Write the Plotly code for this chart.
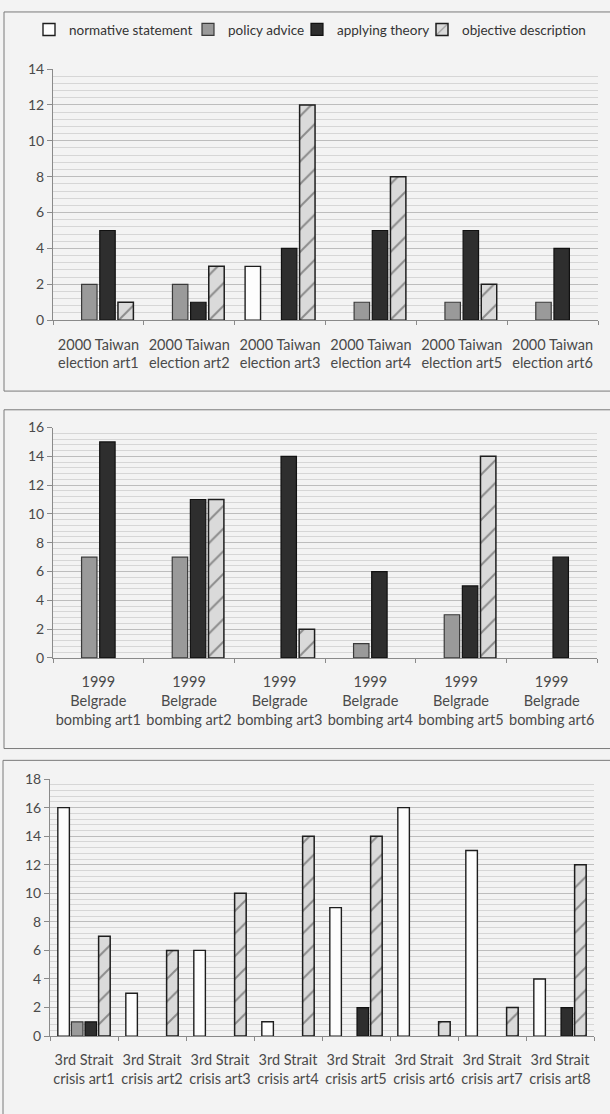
import plotly.graph_objects as go

# Category labels for the three case studies
taiwan_labels = [f"2000 Taiwan<br>election art{i}" for i in range(1, 7)]
belgrade_labels = [f"1999<br>Belgrade<br>bombing art{i}" for i in range(1, 7)]
strait_labels = [f"3rd Strait<br>crisis art{i}" for i in range(1, 9)]

series_names = ["normative statement", "policy advice", "applying theory", "objective description"]

# Counts per article: normative, policy, theory, description
taiwan_normative = [0, 0, 3, 0, 0, 0]
taiwan_policy = [2, 2, 0, 1, 1, 1]
taiwan_theory = [5, 1, 4, 5, 5, 4]
taiwan_description = [1, 3, 12, 8, 2, 0]

belgrade_normative = [0, 0, 0, 0, 0, 0]
belgrade_policy = [7, 7, 0, 1, 3, 0]
belgrade_theory = [15, 11, 14, 6, 5, 7]
belgrade_description = [0, 11, 2, 0, 14, 0]

strait_normative = [16, 3, 6, 1, 9, 16, 13, 4]
strait_policy = [1, 0, 0, 0, 0, 0, 0, 0]
strait_theory = [1, 0, 0, 0, 2, 0, 0, 2]
strait_description = [7, 6, 10, 14, 14, 1, 2, 12]

W, H = 610, 1114
BG = "#f3f3f3"
OUTLINE = "#1e1e1e"
FONT = "Lato"

styles = [
    dict(color="#fdfdfd", line=dict(color=OUTLINE, width=1.4)),
    dict(color="#9a9a9a", line=dict(color="#3a3a3a", width=1.2)),
    dict(color="#2e2e2e", line=dict(color="#111111", width=1.2)),
    dict(color="#d8d8d8", line=dict(color=OUTLINE, width=1.5),
         pattern=dict(shape="/", fgcolor="#3c3c3c", bgcolor="#dadada", size=16, solidity=0.12)),
]

# one single-entry legend per series, laid out in a row above the first chart
legend_ids = ["legend", "legend2", "legend3", "legend4"]
legend_left_px = [29, 188, 297, 422]

# panel geometry in pixels: (x_left, x_right, y_top, y_bottom, ymax)
panels = [
    (taiwan_labels, [taiwan_normative, taiwan_policy, taiwan_theory, taiwan_description],
     (53, 598, 61, 316, 14)),
    (belgrade_labels, [belgrade_normative, belgrade_policy, belgrade_theory, belgrade_description],
     (53, 597, 425, 659, 16)),
    (strait_labels, [strait_normative, strait_policy, strait_theory, strait_description],
     (50, 594, 782, 1043, 18)),
]

fig = go.Figure()
layout = {}
for p, (labels, series, (xl, xr, yt, yb, ymax)) in enumerate(panels, start=1):
    suffix = "" if p == 1 else str(p)
    for name, vals, st, lg in zip(series_names, series, styles, legend_ids):
        fig.add_trace(go.Bar(
            x=labels, y=[v if v else None for v in vals], name=name,
            marker=st, xaxis="x" + suffix, yaxis="y" + suffix,
            legend=lg, legendgroup=name, showlegend=(p == 1),
        ))
    layout["xaxis" + suffix] = dict(
        domain=[xl / W, xr / W], anchor="y" + suffix,
        showline=True, linecolor="#8a8a8a", linewidth=1,
        ticks="outside", tickson="boundaries", ticklen=4, tickcolor="#8a8a8a",
        tickfont=dict(family=FONT, size=14.5, color="#4a4a4a"),
        ticklabelstandoff=11, tickangle=0, showgrid=False,
    )
    layout["yaxis" + suffix] = dict(
        domain=[1 - yb / H, 1 - yt / H], anchor="x" + suffix,
        range=[0, ymax], dtick=2, showline=True, linecolor="#8a8a8a", linewidth=1,
        ticks="outside", ticklen=5, tickcolor="#8a8a8a",
        tickfont=dict(family=FONT, size=14, color="#4a4a4a"),
        showgrid=True, gridcolor="#bdbdbd", gridwidth=1, zeroline=False,
        minor=dict(dtick=0.4, showgrid=True, gridcolor="#d6d6d6", gridwidth=1),
    )

for lg, left in zip(legend_ids, legend_left_px):
    layout[lg] = dict(
        orientation="h", x=left / W, xanchor="left", y=1 - 21 / H, yanchor="middle",
        font=dict(family=FONT, size=13.5, color="#333333"),
        bgcolor="rgba(0,0,0,0)", borderwidth=0, itemwidth=30,
    )

# frames around each chart
frames = [(4, 3, 388), (4, 407, 751), (3, 763, 1125)]
shapes = [
    dict(type="rect", xref="paper", yref="paper",
         x0=x0 / W, x1=640 / W, y0=1 - y1 / H, y1=1 - y0 / H,
         line=dict(color="#7a7a7a", width=1), fillcolor="rgba(0,0,0,0)", layer="below")
    for x0, y0, y1 in frames
]

fig.update_layout(
    width=W, height=H, margin=dict(l=0, r=0, t=0, b=0),
    paper_bgcolor=BG, plot_bgcolor=BG,
    barmode="group", bargap=0.2, bargroupgap=0.15,
    shapes=shapes,
    **layout,
)

fig.write_html("out.html")
